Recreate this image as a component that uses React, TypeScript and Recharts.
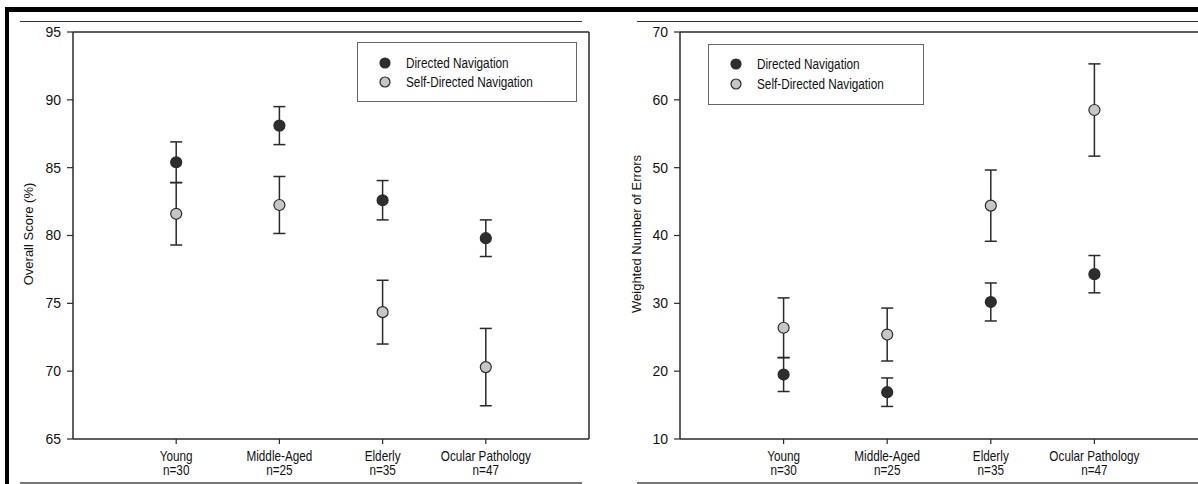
import React from "react";
import {
  ErrorBar,
  ReferenceLine,
  Scatter,
  ScatterChart,
  XAxis,
  YAxis,
} from "recharts";

// Groups along the x axis (positions 1..4)
const groups = ["Young", "Middle-Aged", "Elderly", "Ocular Pathology"];
const groupSizes = ["n=30", "n=25", "n=35", "n=47"];

// Overall score (%) — mean and error half-width
const scoreDirected = [85.4, 88.1, 82.6, 79.8];
const scoreDirectedErr = [1.5, 1.4, 1.45, 1.35];
const scoreSelf = [81.6, 82.25, 74.35, 70.3];
const scoreSelfErr = [2.3, 2.1, 2.35, 2.85];
const scoreTicks = [65, 70, 75, 80, 85, 90, 95];

// Weighted number of errors — mean and error half-width
const errorsDirected = [19.5, 16.9, 30.2, 34.3];
const errorsDirectedErr = [2.5, 2.1, 2.8, 2.75];
const errorsSelf = [26.4, 25.4, 44.4, 58.5];
const errorsSelfErr = [4.4, 3.9, 5.25, 6.8];
const errorTicks = [10, 20, 30, 40, 50, 60, 70];

const seriesNames = ["Directed Navigation", "Self-Directed Navigation"];

const DARK = "#2e2e2e";
const LIGHT = "#c6c6c6";
const INK = "#2a2a2a";
const SANS = "'Liberation Sans', Arial, Helvetica, sans-serif";
// narrow look: regular sans squeezed horizontally
const SQUEEZE = 0.84;

const toPoints = (values: number[], errs: number[]) =>
  values.map((y, i) => ({ x: i + 1, y, err: errs[i] }));

function Dot(props: any) {
  const { cx, cy, fill } = props;
  if (cx == null || cy == null) return null;
  return <circle cx={cx} cy={cy} r={5.5} fill={fill} stroke={INK} strokeWidth={1.2} />;
}

function GroupTick(props: any) {
  const { x, y, payload } = props;
  const i = Math.round(payload.value) - 1;
  return (
    <g transform={`translate(${x},${y}) scale(${SQUEEZE},1)`}>
      <text x={0} y={0} textAnchor="middle" fontFamily={SANS} fontSize={14} fill="#111">
        <tspan x={0} dy={15}>{groups[i]}</tspan>
        <tspan x={0} dy={14}>{groupSizes[i]}</tspan>
      </text>
    </g>
  );
}

function LegendBox({ left, top, width, height, rowTop, rowGap }: {
  left: number; top: number; width: number; height: number; rowTop: number; rowGap: number;
}) {
  const colors = [DARK, LIGHT];
  return (
    <div
      style={{
        position: "absolute",
        left,
        top,
        width,
        height,
        border: "1px solid #666",
        boxSizing: "border-box",
        background: "#fff",
      }}
    >
      {seriesNames.map((name, i) => (
        <div
          key={name}
          style={{
            position: "absolute",
            left: 20,
            top: rowTop + i * rowGap,
            height: 16,
            display: "flex",
            alignItems: "center",
            whiteSpace: "nowrap",
          }}
        >
          <svg width={14} height={14} style={{ marginRight: 14 }}>
            <circle cx={7} cy={7} r={5} fill={colors[i]} stroke={INK} strokeWidth={1.2} />
          </svg>
          <span
            style={{
              display: "inline-block",
              fontFamily: SANS,
              fontSize: 14,
              color: "#111",
              transform: `scaleX(${SQUEEZE})`,
              transformOrigin: "left center",
            }}
          >
            {name}
          </span>
        </div>
      ))}
    </div>
  );
}

interface PanelProps {
  width: number;
  yWidth: number;
  rightMargin: number;
  domain: [number, number];
  ticks: number[];
  title: string;
  titleX: number;
  directed: { x: number; y: number; err: number }[];
  self: { x: number; y: number; err: number }[];
  closeRight: boolean;
}

function Panel({ width, yWidth, rightMargin, domain, ticks, title, titleX, directed, self, closeRight }: PanelProps) {
  return (
    <ScatterChart width={width} height={484} margin={{ top: 32, right: rightMargin, bottom: 0, left: 0 }}>
      <XAxis
        type="number"
        dataKey="x"
        domain={[0, 5]}
        ticks={[1, 2, 3, 4]}
        interval={0}
        height={45}
        tickSize={5}
        tickLine={{ stroke: INK, strokeWidth: 1.2 }}
        axisLine={{ stroke: INK, strokeWidth: 1.5 }}
        tick={<GroupTick />}
      />
      <YAxis
        type="number"
        dataKey="y"
        domain={domain}
        ticks={ticks}
        interval={0}
        width={yWidth}
        tickSize={6}
        tickMargin={6}
        tickLine={{ stroke: INK, strokeWidth: 1.2 }}
        axisLine={{ stroke: INK, strokeWidth: 1.5 }}
        tick={{ fill: "#111", fontSize: 14, fontFamily: SANS }}
        label={{
          content: () => (
            <text
              x={titleX}
              y={234}
              transform={`rotate(-90 ${titleX} 234)`}
              textAnchor="middle"
              dominantBaseline="central"
              fontFamily={SANS}
              fontSize={13}
              fill="#111"
            >
              {title}
            </text>
          ),
        }}
      />
      {/* frame of the plot area */}
      <ReferenceLine y={domain[1]} stroke={INK} strokeWidth={1.5} />
      {closeRight && <ReferenceLine x={5} stroke={INK} strokeWidth={1.5} />}
      <Scatter data={self} fill={LIGHT} shape={<Dot />} isAnimationActive={false}>
        <ErrorBar dataKey="err" direction="y" width={6} stroke={INK} strokeWidth={1.5} isAnimationActive={false} />
      </Scatter>
      <Scatter data={directed} fill={DARK} shape={<Dot />} isAnimationActive={false}>
        <ErrorBar dataKey="err" direction="y" width={6} stroke={INK} strokeWidth={1.5} isAnimationActive={false} />
      </Scatter>
    </ScatterChart>
  );
}

const rule = (style: React.CSSProperties) => <div style={{ position: "absolute", ...style }} />;

export default function App() {
  return (
    <div
      style={{
        position: "absolute",
        left: 0,
        top: 0,
        width: 1198,
        height: 484,
        overflow: "hidden",
        background: "#fff",
      }}
    >
      {/* page rules */}
      {rule({ left: 5, top: 7, width: 1193, height: 5, background: "#000" })}
      {rule({ left: 5, top: 7, width: 4, height: 477, background: "#000" })}
      {rule({ left: 20, top: 21, width: 562, height: 1, background: "#333" })}
      {rule({ left: 637, top: 21, width: 561, height: 1, background: "#333" })}
      {rule({ left: 20, top: 482, width: 562, height: 2, background: "#777" })}
      {rule({ left: 637, top: 482, width: 561, height: 2, background: "#777" })}

      <div style={{ position: "absolute", left: 0, top: 0 }}>
        <Panel
          width={600}
          yWidth={73}
          rightMargin={11}
          domain={[65, 95]}
          ticks={scoreTicks}
          title="Overall Score (%)"
          titleX={28}
          directed={toPoints(scoreDirected, scoreDirectedErr)}
          self={toPoints(scoreSelf, scoreSelfErr)}
          closeRight
        />
        <LegendBox left={357} top={42} width={220} height={60} rowTop={12} rowGap={19} />
      </div>

      <div style={{ position: "absolute", left: 600, top: 0 }}>
        <Panel
          width={598}
          yWidth={80}
          rightMargin={0}
          domain={[10, 70]}
          ticks={errorTicks}
          title="Weighted Number of Errors"
          titleX={36}
          directed={toPoints(errorsDirected, errorsDirectedErr)}
          self={toPoints(errorsSelf, errorsSelfErr)}
          closeRight={false}
        />
        <LegendBox left={108} top={44} width={216} height={61} rowTop={11} rowGap={20} />
      </div>
    </div>
  );
}
